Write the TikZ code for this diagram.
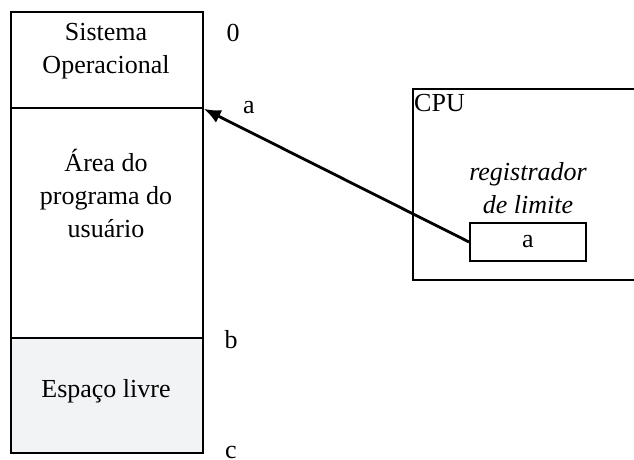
\documentclass[tikz,border=0pt]{standalone}
\usepackage{fontspec}
\setmainfont{Liberation Serif}
\usetikzlibrary{arrows.meta}
\begin{document}
\begin{tikzpicture}[x=1pt,y=-1pt,
  box/.style={draw=black, line width=1.8pt, rectangle, inner sep=0pt, anchor=north west},
  txt/.style={align=center, inner sep=0pt, font=\fontsize{26}{33}\selectfont},
  conn/.style={line width=2.8pt, -{Latex[length=17pt,width=14pt]}}]
\useasboundingbox (0,0) rectangle (634,460);
\clip (0,0) rectangle (634,460);
% memory column
\node[box, minimum width=192pt, minimum height=96pt] (so) at (10,11) {};
\node[box, minimum width=192pt, minimum height=230pt] (area) at (10,107) {};
\node[box, fill={rgb,255:red,242;green,243;blue,245}, minimum width=192pt, minimum height=115pt] (free) at (10,337) {};
\node[txt] (sotxt) at (106,51) {Sistema\\Operacional};
\node[txt] (areatxt) at (106,193) {Área do\\programa do\\usuário};
\node[txt] (freetxt) at (106,391) {Espaço livre};
% address labels
\node[txt] (l0) at (233,33) {0};
\node[txt] (la) at (249,108) {a};
\node[txt] (lb) at (231,340) {b};
\node[txt] (lc) at (231,452) {c};
% CPU
\node[box, minimum width=240pt, minimum height=191pt] (cpu) at (412,88) {};
\node[txt, anchor=north west] (cputxt) at (414,94) {CPU};
\node[txt, font=\fontsize{26}{33}\selectfont\itshape] (regtxt) at (528,188) {registrador\\de limite};
\node[box, anchor=center, minimum width=116pt, minimum height=38pt, font=\fontsize{26}{33}\selectfont] (reg) at (528,242) {a};
% connector
\draw[conn] (reg.west) -- (so.south east);
\end{tikzpicture}
\end{document}
